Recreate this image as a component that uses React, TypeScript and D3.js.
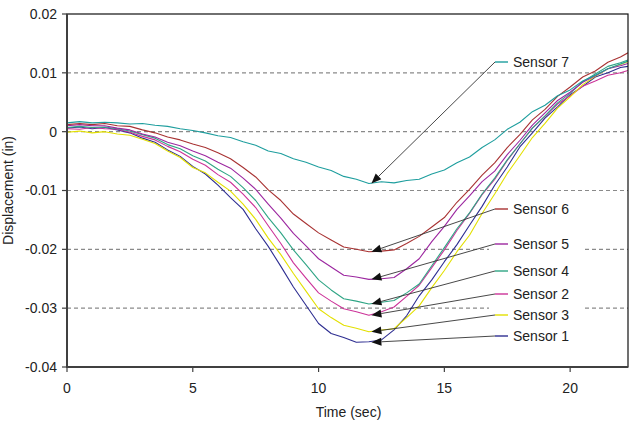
import React from "react";
import * as d3 from "d3";

// sample times (sec)
const times = [
  0, 0.5, 1, 1.5, 2, 2.5, 3, 3.5, 4, 4.5, 5, 5.5, 6, 6.5, 7, 7.5, 8, 8.5, 9, 9.5,
  10, 10.5, 11, 11.5, 12, 12.5, 13, 13.5, 14, 14.5, 15, 15.5, 16, 16.5, 17, 17.5,
  18, 18.5, 19, 19.5, 20, 20.5, 21, 21.5, 22, 22.3,
];

// displacement (in) per sensor
const sensor1 = [
  0.0006, 0.0008, 0.0005, 0.0007, 0.0003, -0.0002, -0.0011, -0.0018, -0.0031, -0.0042,
  -0.0059, -0.0072, -0.0091, -0.0112, -0.0132, -0.0165, -0.0195, -0.0229, -0.0264, -0.0295,
  -0.0326, -0.0343, -0.035, -0.0358, -0.0357, -0.0354, -0.0337, -0.0313, -0.0279, -0.0252,
  -0.0221, -0.0192, -0.0159, -0.0127, -0.0091, -0.006, -0.0026, -0.0002, 0.0023, 0.0042,
  0.0063, 0.0077, 0.0093, 0.01, 0.0109, 0.0111,
];
const sensor2 = [
  0.0005, 0.0004, 0.0007, 0.0005, 0.0004, -0.0001, -0.0008, -0.0014, -0.0025, -0.0034,
  -0.0047, -0.0057, -0.0073, -0.0086, -0.0106, -0.0129, -0.016, -0.019, -0.0223, -0.0249,
  -0.0274, -0.0288, -0.0301, -0.0306, -0.0312, -0.0306, -0.0298, -0.028, -0.0261, -0.0231,
  -0.0201, -0.0168, -0.0139, -0.0107, -0.0081, -0.0049, -0.0021, 0.0006, 0.0026, 0.0047,
  0.0061, 0.0077, 0.0086, 0.0096, 0.01, 0.0104,
];
const sensor3 = [
  -0.0001, 0.0001, -0.0002, 0.0, -0.0004, -0.0006, -0.0013, -0.002, -0.0033, -0.0044,
  -0.0061, -0.007, -0.0086, -0.0101, -0.0123, -0.0149, -0.0181, -0.0209, -0.0241, -0.0271,
  -0.0301, -0.0316, -0.0329, -0.0334, -0.034, -0.0337, -0.0335, -0.0316, -0.0296, -0.0265,
  -0.0236, -0.0204, -0.0176, -0.0139, -0.0106, -0.0071, -0.0041, -0.001, 0.0014, 0.004,
  0.0059, 0.008, 0.0094, 0.0107, 0.0114, 0.0119,
];
const sensor4 = [
  0.0007, 0.0009, 0.0007, 0.0008, 0.0005, 0.0001, -0.0005, -0.0011, -0.0022, -0.0029,
  -0.0041, -0.005, -0.0064, -0.0076, -0.0095, -0.0117, -0.0146, -0.0172, -0.0201, -0.0226,
  -0.0252, -0.0269, -0.0284, -0.0288, -0.0293, -0.029, -0.0287, -0.0274, -0.0259, -0.0228,
  -0.0197, -0.0165, -0.0138, -0.0106, -0.0079, -0.0048, -0.0021, 0.0006, 0.0027, 0.0049,
  0.0065, 0.0085, 0.0098, 0.0111, 0.0117, 0.0122,
];
const sensor5 = [
  0.001, 0.0012, 0.001, 0.001, 0.0006, 0.0003, -0.0004, -0.0009, -0.0018, -0.0024,
  -0.0033, -0.0041, -0.0052, -0.0062, -0.0079, -0.0098, -0.0123, -0.0147, -0.0173, -0.0194,
  -0.0216, -0.023, -0.0244, -0.0247, -0.0251, -0.025, -0.0248, -0.0233, -0.0216, -0.0187,
  -0.0161, -0.0132, -0.0109, -0.0085, -0.0067, -0.0039, -0.0015, 0.0011, 0.0032, 0.0053,
  0.0067, 0.0084, 0.0095, 0.0107, 0.0112, 0.0116,
];
const sensor6 = [
  0.0012, 0.0014, 0.0012, 0.0014, 0.001, 0.0009, 0.0003, -0.0002, -0.0009, -0.0014,
  -0.0021, -0.0027, -0.0036, -0.0046, -0.0061, -0.0077, -0.0099, -0.0117, -0.014, -0.0156,
  -0.0172, -0.0184, -0.0196, -0.02, -0.0204, -0.0203, -0.0201, -0.019, -0.0178, -0.0162,
  -0.0146, -0.012, -0.0098, -0.0074, -0.0053, -0.0027, -0.0005, 0.002, 0.0038, 0.006,
  0.0076, 0.0093, 0.0103, 0.0118, 0.0127, 0.0134,
];
const sensor7 = [
  0.0015, 0.0017, 0.0015, 0.0016, 0.0015, 0.0013, 0.0014, 0.0011, 0.0009, 0.0005,
  0.0002, -0.0002, -0.0007, -0.001, -0.0017, -0.0023, -0.0033, -0.0037, -0.0046, -0.0052,
  -0.006, -0.0066, -0.0076, -0.0081, -0.0088, -0.0085, -0.0087, -0.0083, -0.0081, -0.0072,
  -0.0065, -0.0053, -0.0043, -0.0027, -0.0014, 0.0004, 0.0016, 0.0034, 0.0045, 0.0061,
  0.0071, 0.0086, 0.0096, 0.0107, 0.0115, 0.012,
];

const sensorNames = ["Sensor 1", "Sensor 2", "Sensor 3", "Sensor 4", "Sensor 5", "Sensor 6", "Sensor 7"];
const sensorValues = [sensor1, sensor2, sensor3, sensor4, sensor5, sensor6, sensor7];
const sensorColors = ["#2e2e91", "#cc3399", "#e3e000", "#2fa585", "#9c27a0", "#a83232", "#1e9e9e"];

const xTicks = [0, 5, 10, 15, 20];
const yTicks = [-0.04, -0.03, -0.02, -0.01, 0, 0.01, 0.02];
const yTickLabels = ["-0.04", "-0.03", "-0.02", "-0.01", "0", "0.01", "0.02"];
const gridValues = [-0.03, -0.02, -0.01, 0, 0.01];

// callouts: time the arrows point at, and label rows
const arrowTime = 12.1;
const labelRows = [336, 294, 315, 271, 244, 209, 62];

const W = 633;
const H = 423;
const font = "'Liberation Sans', Arial, Helvetica, sans-serif";

export default function App() {
  const x = d3.scaleLinear().domain([0, 22.3]).range([67, 628]);
  const y = d3.scaleLinear().domain([-0.04, 0.02]).range([367, 14]);
  const [x0, x1] = x.range();
  const [y0, y1] = y.range();

  const line = d3
    .line<number>()
    .x((_, i) => x(times[i]))
    .y((d) => y(d));

  const labelX = 495;
  const segLen = 13;

  return (
    <div style={{ position: "absolute", left: 0, top: 0, width: W, height: H, background: "#fff" }}>
      <svg width={W} height={H} style={{ display: "block" }} fontFamily={font}>
        <defs>
          <clipPath id="plot">
            <rect x={x0} y={y1} width={x1 - x0} height={y0 - y1} />
          </clipPath>
        </defs>

        {gridValues.map((v) => (
          <line
            key={v}
            x1={x0}
            x2={x1}
            y1={y(v)}
            y2={y(v)}
            stroke="#8a8a8a"
            strokeWidth={1.2}
            strokeDasharray="4,3"
          />
        ))}

        {/* white boxes behind the callout labels */}
        {sensorNames.map((name, i) => (
          <rect key={name} x={489} y={labelRows[i] - 8} width={94} height={16} fill="#fff" />
        ))}

        <g clipPath="url(#plot)">
          {sensorValues.map((vals, i) => (
            <path
              key={sensorNames[i]}
              d={line(vals) ?? ""}
              fill="none"
              stroke={sensorColors[i]}
              strokeWidth={1.1}
              strokeLinejoin="round"
            />
          ))}
        </g>

        {/* frame and axes */}
        <rect x={x0} y={y1} width={x1 - x0} height={y0 - y1} fill="none" stroke="#111" strokeWidth={1.2} />
        <line x1={x0} x2={x0} y1={y1} y2={y0 + 1} stroke="#404040" strokeWidth={2} />
        <line x1={x0} x2={x1} y1={y0} y2={y0} stroke="#404040" strokeWidth={2} />

        {yTicks.map((v, i) => (
          <g key={v}>
            <line x1={x0 - 5} x2={x0} y1={y(v)} y2={y(v)} stroke="#404040" strokeWidth={1.2} />
            <text x={x0 - 10} y={y(v)} dy="0.35em" textAnchor="end" fontSize={14} fill="#222">
              {yTickLabels[i]}
            </text>
          </g>
        ))}
        {xTicks.map((t) => (
          <g key={t}>
            <line x1={x(t)} x2={x(t)} y1={y0} y2={y0 + 5} stroke="#404040" strokeWidth={1.2} />
            <text x={x(t)} y={y0 + 26} textAnchor="middle" fontSize={14} fill="#222">
              {t}
            </text>
          </g>
        ))}

        <text x={(x0 + x1) / 2 + 1} y={417} textAnchor="middle" fontSize={14} fill="#222">
          Time (sec)
        </text>
        <text
          transform={`translate(13,${(y0 + y1) / 2}) rotate(-90)`}
          textAnchor="middle"
          fontSize={14}
          fill="#222"
        >
          Displacement (in)
        </text>

        {/* callout leaders with arrowheads */}
        {sensorNames.map((name, i) => {
          const tx = x(arrowTime);
          const ty = y(d3.min(sensorValues[i]) as number);
          const sx = labelX;
          const sy = labelRows[i];
          const ang = Math.atan2(sy - ty, sx - tx);
          const len = 10;
          const half = 4;
          const bx = tx + Math.cos(ang) * len;
          const by = ty + Math.sin(ang) * len;
          const px = -Math.sin(ang) * half;
          const py = Math.cos(ang) * half;
          return (
            <g key={name}>
              <line x1={sx} y1={sy} x2={bx} y2={by} stroke="#333" strokeWidth={0.9} />
              <polygon
                points={`${tx},${ty} ${bx + px},${by + py} ${bx - px},${by - py}`}
                fill="#111"
              />
              <line x1={sx} x2={sx + segLen} y1={sy} y2={sy} stroke={sensorColors[i]} strokeWidth={1.4} />
              <text x={sx + segLen + 5} y={sy} dy="0.35em" fontSize={14} fill="#222">
                {name}
              </text>
            </g>
          );
        })}
      </svg>
    </div>
  );
}
